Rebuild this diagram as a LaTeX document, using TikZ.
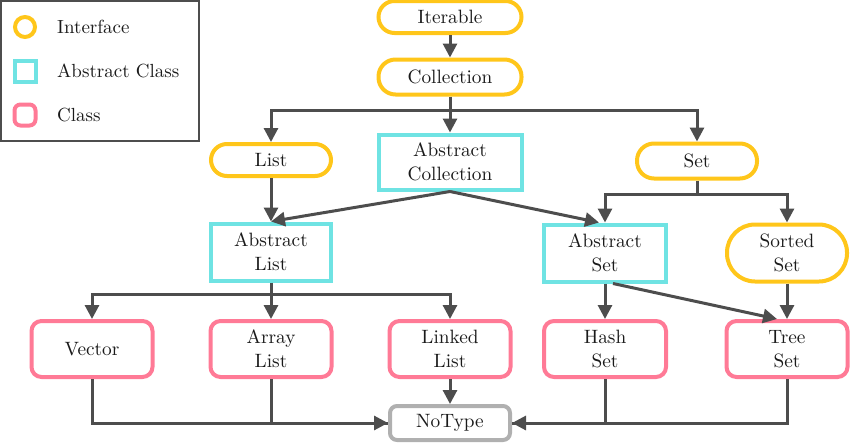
\documentclass[tikz,border=0pt]{standalone}
\usepackage{fontspec}
\setmainfont{lmroman10-regular.otf}
\usetikzlibrary{arrows.meta}
\definecolor{cyel}{HTML}{FFC61A}
\definecolor{ccyan}{HTML}{6FE3E3}
\definecolor{cpink}{HTML}{FF7A96}
\definecolor{cgray}{HTML}{B0B0B0}
\definecolor{cline}{HTML}{4D4D4D}
\definecolor{ctext}{HTML}{1A1A1A}
\begin{document}
\begin{tikzpicture}[x=1pt,y=-1pt,
  base/.style={line width=4pt, align=center, inner sep=0pt, text=ctext,
    font=\fontsize{19.3}{24}\selectfont, fill=white},
  iface/.style={base, draw=cyel, minimum width=120pt, minimum height=32pt, rounded corners=16pt},
  abst/.style={base, draw=ccyan, minimum width=120pt, minimum height=57pt},
  klass/.style={base, draw=cpink, minimum width=121pt, minimum height=56pt, rounded corners=10pt},
  conn/.style={draw=cline, line width=3pt},
  arr/.style={conn, -{Triangle[length=14pt,width=14pt]}},
  legtext/.style={anchor=west, inner sep=0pt, text=ctext, font=\fontsize{19}{24}\selectfont}
]
\useasboundingbox (0,0) rectangle (850,442);
% legend
\node[draw=cline, line width=2.5pt, minimum width=198pt, minimum height=140pt, inner sep=0pt] (legend) at (100,71) {};
\node[circle, draw=cyel, line width=4pt, minimum size=20pt, inner sep=0pt] (li) at (25,27) {};
\node[draw=ccyan, line width=4pt, minimum size=21pt, inner sep=0pt] (la) at (25,71) {};
\node[draw=cpink, line width=4pt, minimum size=21pt, inner sep=0pt, rounded corners=6pt] (lc) at (25,115) {};
\node[legtext] (lit) at (57,27) {Interface};
\node[legtext] (lat) at (57,71) {Abstract Class};
\node[legtext] (lct) at (57,115) {Class};
% nodes
\node[iface, minimum width=143pt] (iter) at (450,17) {Iterable};
\node[iface, minimum width=143pt, minimum height=35pt, rounded corners=17pt] (coll) at (450,77) {Collection};
\node[iface] (list) at (271,160) {List};
\node[abst, minimum width=143pt, minimum height=55pt] (ac) at (450,162) {Abstract\\Collection};
\node[iface, minimum height=35pt, rounded corners=17pt] (set) at (697,161) {Set};
\node[abst] (al) at (271,252) {Abstract\\List};
\node[abst, minimum width=122pt] (as) at (605,253) {Abstract\\Set};
\node[iface, minimum height=57pt, rounded corners=28pt] (ss) at (787,253) {Sorted\\Set};
\node[klass] (vec) at (92,349) {Vector};
\node[klass] (arl) at (271,349) {Array\\List};
\node[klass] (lkl) at (450,349) {Linked\\List};
\node[klass, minimum width=122pt] (hs) at (605,349) {Hash\\Set};
\node[klass] (ts) at (787,349) {Tree\\Set};
\node[base, draw=cgray, minimum width=120pt, minimum height=34pt, rounded corners=7pt] (nt) at (450,423) {NoType};
% junctions
\coordinate (j1) at (450,110);
\coordinate (j2) at (697,194);
\coordinate (j3) at (271,294);
% connectors
\draw[arr] (iter) -- (coll);
\draw[conn] (coll) -- (j1);
\draw[arr] (j1) -- (ac);
\draw[arr] (j1) -| (list.north);
\draw[arr] (j1) -| (set.north);
\draw[arr] (ac.south) -- (al.north);
\draw[arr] (ac.south) -- ([xshift=-6pt]as.north);
\draw[conn] (set) -- (j2);
\draw[arr] (j2) -| (as.north);
\draw[arr] (j2) -| (ss.north);
\draw[arr] (list) -- (al);
\draw[conn] (al) -- (j3);
\draw[arr] (j3) -| (vec.north);
\draw[arr] (j3) -- (arl);
\draw[arr] (j3) -| (lkl.north);
\draw[arr] (as) -- (hs);
\draw[arr] ([xshift=8pt]as.south) -- ([xshift=-10pt]ts.north);
\draw[arr] (ss) -- (ts);
\draw[arr] (lkl) -- (nt);
\draw[conn] (arl.south) |- (nt.west);
\draw[arr] (vec.south) |- (nt.west);
\draw[conn] (hs.south) |- (nt.east);
\draw[arr] (ts.south) |- (nt.east);
\end{tikzpicture}
\end{document}
